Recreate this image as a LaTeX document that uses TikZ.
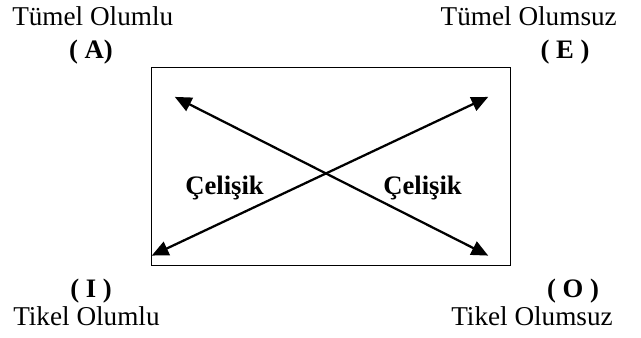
\documentclass[tikz,border=0pt]{standalone}
\usepackage{fontspec}
\setmainfont{Liberation Serif}
\usetikzlibrary{arrows.meta}
\tikzset{
  lbl/.style={inner sep=0pt, font=\fontsize{20.4}{24}\selectfont},
  blbl/.style={inner sep=0pt, font=\fontsize{20}{24}\selectfont\bfseries},
  frame/.style={draw, line width=1.2pt},
  conn/.style={line width=1.7pt, {Triangle[length=12.5pt,width=11pt]}-{Triangle[length=12.5pt,width=11pt]}, shorten <=-1pt, shorten >=-1pt}
}
\begin{document}
\begin{tikzpicture}[x=0.75pt,y=-0.75pt]
\useasboundingbox (0,0) rectangle (641,338);
\node[frame, minimum width=359*0.75pt, minimum height=198*0.75pt, inner sep=0pt] (box) at (331,166.5) {};
\coordinate (tl) at (176,97.5);
\coordinate (tr) at (487,97.5);
\coordinate (bl) at (153,255);
\coordinate (br) at (487,255);
\draw[conn] (tl) -- (br);
\draw[conn] (bl) -- (tr);
\node[lbl, anchor=base west] (a1) at (12,26) {Tümel Olumlu};
\node[blbl, anchor=base] (a2) at (91,59) {( A)};
\node[lbl, anchor=base east] (e1) at (617,26) {Tümel Olumsuz};
\node[blbl, anchor=base] (e2) at (565,59) {( E )};
\node[blbl, anchor=base] (i2) at (91,297) {( I )};
\node[lbl, anchor=base west] (i1) at (13,325) {Tikel Olumlu};
\node[blbl, anchor=base] (o2) at (573,297) {( O )};
\node[lbl, anchor=base east] (o1) at (613,325) {Tikel Olumsuz};
\node[blbl, anchor=base west] (c1) at (185,195) {Çelişik};
\node[blbl, anchor=base west] (c2) at (383,195) {Çelişik};
\end{tikzpicture}
\end{document}
